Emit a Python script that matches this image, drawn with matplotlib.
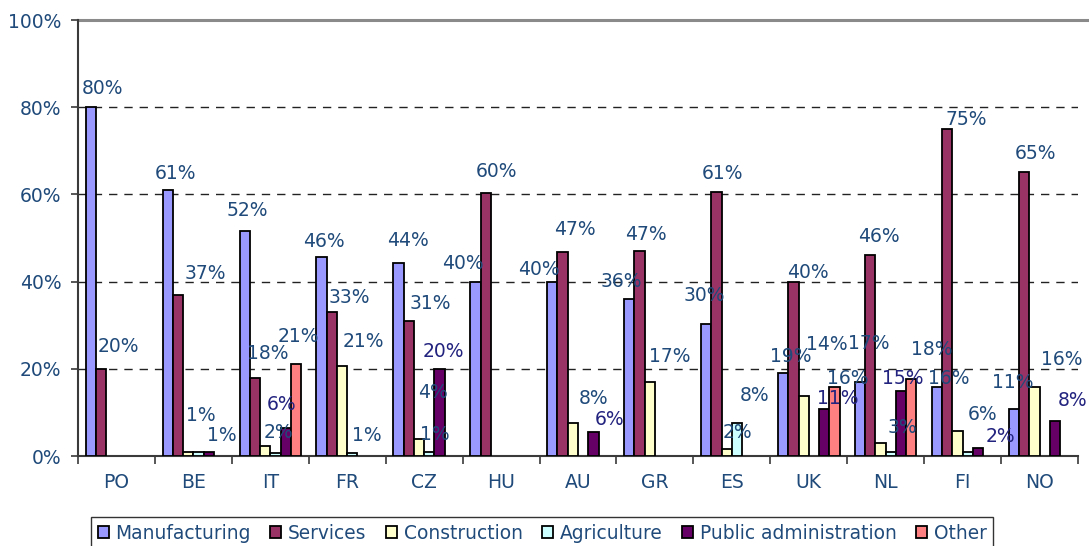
import matplotlib
matplotlib.use("Agg")
import matplotlib.pyplot as plt
import numpy as np

# ---------------- data ----------------
countries = ["PO", "BE", "IT", "FR", "CZ", "HU", "AU", "GR", "ES", "UK", "NL", "FI", "NO"]
series_names = ["Manufacturing", "Services", "Construction", "Agriculture",
                "Public administration", "Other"]
manufacturing = [80, 61, 51.6, 45.6, 44.2, 40, 40, 36, 30.3, 19, 17, 15.8, 10.8]
services      = [20, 36.9, 17.8, 33, 31, 60.3, 46.9, 47, 60.6, 40, 46.1, 74.9, 65.2]
construction  = [0, 1, 2.3, 20.6, 3.8, 0, 7.6, 17, 1.6, 13.8, 2.9, 5.7, 15.8]
agriculture   = [0, 1, 0.6, 0.8, 1, 0, 0, 0, 7.6, 0, 1, 1, 0]
public_admin  = [0, 1, 6.4, 0, 20, 0, 5.6, 0, 0, 10.8, 15, 1.8, 8.1]
other         = [0, 0, 21, 0, 0, 0, 0, 0, 0, 15.8, 17.7, 0, 0]
all_series = [manufacturing, services, construction, agriculture, public_admin, other]

# ---------------- style ----------------
colors = ["#9999FF", "#993366", "#FFFFCC", "#CCFFFF", "#660066", "#FF8080"]
label_color = "#1F4A7A"
pa_label_color = "#22227F"
label_colors = [label_color, label_color, label_color, label_color, pa_label_color, label_color]

# data-label placement (dx in pixels, dy in percentage points) keyed by (country idx, series idx)
label_offsets = {
    (0, 0): (12, 4.3), (0, 1): (17, 5.1),
    (1, 0): (8, 3.8), (1, 1): (27, 5.0), (1, 2): (13, 8.4), (1, 3): (23, 3.8),
    (2, 0): (3, 4.6), (2, 1): (13, 5.6), (2, 2): (13, 3.0), (2, 4): (-4, 5.3), (2, 5): (2, 6.4),
    (3, 0): (2, 3.6), (3, 1): (17, 3.3), (3, 2): (21, 5.6), (3, 3): (14, 4.0),
    (4, 0): (9, 5.2), (4, 1): (22, 4.0), (4, 2): (14, 10.7), (4, 3): (6, 4.0), (4, 4): (4, 3.9),
    (5, 0): (-13, 4.2), (5, 1): (11, 4.9),
    (6, 0): (-13, 2.8), (6, 1): (12, 5.1), (6, 2): (21, 5.6), (6, 4): (16, 2.8),
    (7, 0): (-8, 4.0), (7, 1): (6, 3.9), (7, 2): (20, 5.9),
    (8, 0): (-2, 6.4), (8, 1): (6, 4.1), (8, 2): (11, 3.7), (8, 3): (18, 6.2),
    (9, 0): (8, 3.9), (9, 1): (14, 2.0), (9, 2): (23, 11.7), (9, 4): (14, 2.4), (9, 5): (13, 2.0),
    (10, 0): (9, 8.7), (10, 1): (9, 4.2), (10, 2): (22, 3.7), (10, 4): (2, 2.8), (10, 5): (20, 6.8),
    (11, 0): (12, 2.0), (11, 1): (19, 2.2), (11, 2): (25, 3.9), (11, 4): (22, 2.6),
    (12, 0): (-1, 6.0), (12, 1): (11, 4.2), (12, 2): (27, 6.4), (12, 4): (18, 4.7),
}

plt.rcParams["font.family"] = ["DejaVu Sans"]

W, H = 1089, 546
fig = plt.figure(figsize=(W / 100, H / 100), dpi=100)
ax = fig.add_axes([78 / W, 1 - 456 / H, 1000 / W, 436 / H])

n_cat = len(countries)
x = np.arange(n_cat)
bw = 0.8 / 6
cat_px = 1000 / n_cat

handles = []
for j, (vals, col) in enumerate(zip(all_series, colors)):
    vals = np.array(vals, dtype=float)
    pos = x + (j - 2.5) * bw
    mask = vals > 0
    bars = ax.bar(pos[mask], vals[mask], width=bw, color=col, edgecolor="black",
                  linewidth=1.3, zorder=3, label=series_names[j])
    handles.append(bars)
    for i in np.where(mask)[0]:
        if (i, j) in label_offsets:
            dx, dy = label_offsets[(i, j)]
            ax.text(pos[i] + dx / cat_px, vals[i] + dy, f"{round(vals[i]):.0f}%",
                    ha="center", va="center", fontsize=13.5, color=label_colors[j], zorder=4)

ax.set_xlim(-0.5, n_cat - 0.5)
ax.set_ylim(0, 100)

# grid
for g in [20, 40, 60, 80]:
    ax.axhline(g, color="#222222", lw=1.0, ls=(0, (6, 5)), zorder=1)
ax.axhline(100, xmin=0, xmax=1.011, color="#8a8a8a", lw=2.2, clip_on=False, zorder=2)

for s in ["top", "right"]:
    ax.spines[s].set_visible(False)
ax.spines["left"].set_color("#3a3a3a")
ax.spines["left"].set_linewidth(1.5)
ax.spines["bottom"].set_color("#3a3a3a")
ax.spines["bottom"].set_linewidth(1.5)

ax.set_yticks([0, 20, 40, 60, 80, 100])
ax.set_yticklabels([f"{v}%" for v in [0, 20, 40, 60, 80, 100]])
ax.tick_params(axis="y", direction="out", length=5, width=1.2, color="#3a3a3a",
               labelsize=13.5, labelcolor=label_color, pad=7)

ax.set_xticks(x)
ax.set_xticklabels(countries)
ax.set_xticks(np.arange(-0.5, n_cat + 0.5, 1), minor=True)
ax.tick_params(axis="x", which="major", length=0, labelsize=13.5, labelcolor=label_color, pad=12)
ax.tick_params(axis="x", which="minor", direction="out", length=6, width=1.2, color="#3a3a3a")

leg = fig.legend(handles=handles, labels=series_names, loc="upper left",
                 bbox_to_anchor=(91 / W, 1 - 517 / H), bbox_transform=fig.transFigure,
                 ncol=6, fontsize=13.4, frameon=True, fancybox=False, shadow=False,
                 handlelength=0.6, handleheight=0.6, handletextpad=0.35,
                 columnspacing=1.05, borderpad=0.35, borderaxespad=0)
for t in leg.get_texts():
    t.set_color(label_color)
leg.get_frame().set_edgecolor("black")
leg.get_frame().set_linewidth(1.0)

fig.savefig("out.png", dpi=100)
